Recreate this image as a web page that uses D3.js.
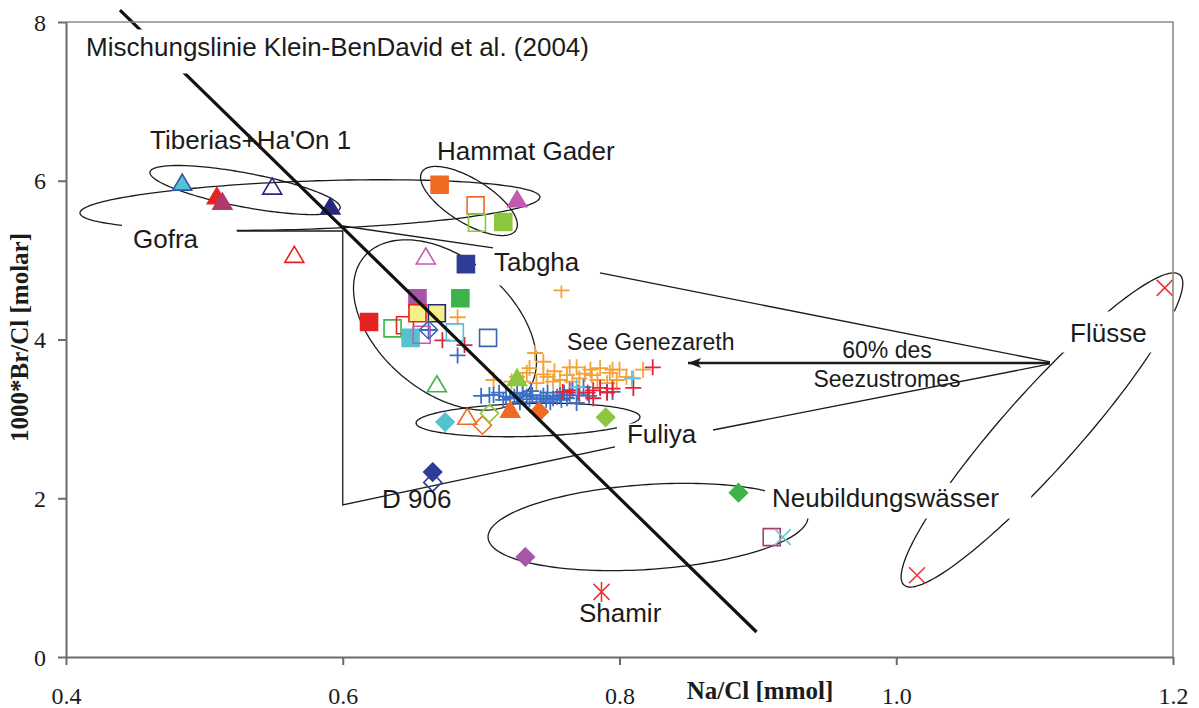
<!DOCTYPE html>
<html><head><meta charset="utf-8">
<script src="https://cdn.jsdelivr.net/npm/d3@7"></script>
<style>body{margin:0;background:#fff}svg{display:block}</style>
</head><body><svg id="c" width="1199" height="708"></svg>
<script>
// ================= DATA =================
const xTicks = [0.4, 0.6, 0.8, 1.0, 1.2];
const xTickLabels = ["0.4", "0.6", "0.8", "1.0", "1.2"];
const yTicks = [0, 2, 4, 6, 8];
const yTickLabels = ["0", "2", "4", "6", "8"];
const xTitle = "Na/Cl [mmol]";
const yTitle = "1000*Br/Cl [molar]";

// [Na/Cl, 1000*Br/Cl] per marker series
const triCyanFill    = [[0.484, 5.97]];
const triRedFill     = [[0.509, 5.80]];
const triCrimsonFill = [[0.513, 5.73]];
const triNavyOpen    = [[0.549, 5.92]];
const triNavyFill    = [[0.591, 5.67]];
const triRedOpen     = [[0.565, 5.06]];
const sqOrangeFill   = [[0.670, 5.95]];
const sqOrangeOpen   = [[0.696, 5.69]];
const sqLimeOpen     = [[0.697, 5.47]];
const sqLimeFill     = [[0.716, 5.48]];
const triMagentaFill = [[0.726, 5.76]];
const triMagentaOpen = [[0.660, 5.04]];
const sqBlueFill     = [[0.689, 4.95]];
const sqPurpleFill   = [[0.654, 4.52]];
const sqGreenFill    = [[0.685, 4.52]];
const sqRedFill      = [[0.619, 4.22]];
const sqYellowRed    = [[0.654, 4.33]];
const sqYellowNavy   = [[0.668, 4.33]];
const sqGreenOpen    = [[0.636, 4.14]];
const sqRedOpen      = [[0.645, 4.18]];
const sqCyanFill     = [[0.649, 4.02]];
const sqCyanOpen     = [[0.681, 4.09]];
const sqPinkOpen     = [[0.657, 4.06]];
const diaBlueOpen    = [[0.662, 4.12]];
const sqBlueOpen     = [[0.705, 4.02]];
const triGreenOpen   = [[0.668, 3.43]];
const triLimeFill    = [[0.726, 3.51]];
const triOrangeFill  = [[0.721, 3.11]];
const triOrangeOpen  = [[0.690, 3.02]];
const diaOrangeFill  = [[0.742, 3.09]];
const diaOrangeOpen  = [[0.701, 2.92]];
const diaLimeFill    = [[0.790, 3.02]];
const diaLimeOpen    = [[0.706, 3.07]];
const diaCyanFill    = [[0.674, 2.96]];
const diaNavyFill    = [[0.665, 2.33]];
const diaNavyOpen    = [[0.665, 2.20]];
const diaGreenFill   = [[0.886, 2.07]];
const diaPurpleFill  = [[0.732, 1.26]];
const sqPlumOpen     = [[0.910, 1.51]];
const xCyan          = [[0.918, 1.51]];
const starRed        = [[0.787, 0.82]];
const xRed           = [[1.194, 4.65], [1.015, 1.03]];
const plusOrange = [[0.758,4.62],[0.683,4.28],[0.739,3.83],[0.745,3.72],[0.764,3.65],[0.769,3.65],[0.779,3.62],
  [0.786,3.64],[0.793,3.58],[0.800,3.62],[0.805,3.53],[0.817,3.62],[0.726,3.53],[0.733,3.58],[0.748,3.53],
  [0.757,3.49],[0.709,3.49],[0.791,3.45],[0.798,3.49],[0.810,3.51],[0.740,3.45],[0.771,3.51],[0.784,3.49],
  [0.753,3.60],[0.762,3.55],[0.775,3.57],[0.730,3.47],[0.745,3.56],[0.735,3.64],[0.752,3.47],[0.766,3.47],
  [0.780,3.55],[0.795,3.62],[0.722,3.47]];
const plusRed = [[0.824,3.65],[0.810,3.39],[0.781,3.36],[0.786,3.39],[0.791,3.33],[0.777,3.33],[0.764,3.36],
  [0.759,3.34],[0.781,3.26],[0.672,3.99],[0.688,3.93],[0.795,3.38],[0.770,3.33]];
const plusBlue = [[0.709,3.30],[0.721,3.26],[0.726,3.33],[0.733,3.28],[0.737,3.30],[0.743,3.26],[0.748,3.33],
  [0.752,3.26],[0.757,3.30],[0.762,3.26],[0.766,3.36],[0.769,3.20],[0.774,3.40],[0.791,3.34],[0.795,3.34],
  [0.728,3.21],[0.740,3.21],[0.750,3.21],[0.706,3.30],[0.716,3.24],[0.683,3.80],[0.662,4.12],[0.730,3.31],
  [0.745,3.29],[0.755,3.28],[0.760,3.33],[0.713,3.33],[0.718,3.28],[0.724,3.28],[0.735,3.25],[0.747,3.24],
  [0.758,3.24],[0.764,3.30],[0.771,3.30],[0.778,3.29],[0.700,3.29],[0.736,3.35]];
const plusCyan = [[0.809,3.51],[0.769,3.40]];

// annotation geometry (data units): ellipse = centre + two conjugate semi-axes
const ellTiberias = {c:[0.5294,5.883], u:[0.0687,-0.2268], v:[-0.0023,-0.2104]};
const ellGofra    = {c:[0.5763,5.694], u:[0.1662, 0.1008], v:[0.0006,-0.3024]};
const ellHammat   = {c:[0.6912,5.745], u:[0.0340,-0.3654], v:[-0.0082,-0.2368]};
const ellTabgha   = {c:[0.6739,4.183], u:[0.0636,-0.1764], v:[0.0181,-1.0583]};
const ellFuliya   = {c:[0.7339,2.986], u:[0.0809, 0.0378], v:[0.0000,-0.2079]};
const ellNeubild  = {c:[0.8206,1.638], u:[0.1156, 0.1260], v:[0.0000,-0.5354]};
const ellFluesse  = {c:[1.1053,2.860], u:[0.0997, 1.9528], v:[0.0205,-0.3187]};
const mixingLine  = [[0.439, 8.15], [0.899, 0.315]];
const polyD906    = [[0.5236,5.367],[0.6,5.367],[0.6,1.915],[0.7967,2.646]];
const lineTabgha  = [[0.6,5.43],[0.7086,5.153]];
const lineFlTab   = [[1.1111,3.717],[0.7859,4.838]];
const lineFlFul   = [[1.1111,3.692],[0.8676,2.860]];
const arrowSee    = [[1.1111,3.704],[0.8495,3.704]];
const labels = [
  ["Mischungslinie Klein-BenDavid et al. (2004)", 0.4145, 7.572],
  ["Tiberias+Ha'On 1", 0.4607, 6.400],
  ["Hammat Gader", 0.6681, 6.261],
  ["Gofra", 0.4484, 5.153],
  ["Tabgha", 0.7093, 4.863],
  ["See Genezareth", 0.7621, 3.868],
  ["60% des", 0.9933, 3.767],
  ["Seezustromes", 0.9933, 3.402],
  ["Flüsse", 1.1256, 3.969],
  ["Fuliya", 0.8054, 2.696],
  ["D 906", 0.6284, 1.877],
  ["Neubildungswässer", 0.9102, 1.890],
  ["Shamir", 0.7707, 0.441]
];

// ================= DRAW =================
const svg = d3.select("#c");
const x = d3.scaleLinear().domain([0.4, 1.2]).range([66, 1173]);
const y = d3.scaleLinear().domain([0, 8]).range([657, 22]);
const INK = "#1b1b1b";

const gAnn = svg.append("g").attr("fill", "none").attr("stroke", INK).attr("stroke-width", 1.3);
function ellPts(e) {
  return d3.range(0, 360, 2).map(a => {
    const t = a * Math.PI / 180, c = Math.cos(t), s = Math.sin(t);
    return [x(e.c[0] + e.u[0]*c + e.v[0]*s), y(e.c[1] + e.u[1]*c + e.v[1]*s)];
  });
}
const closed = d3.line().curve(d3.curveLinearClosed);
[ellTiberias, ellGofra, ellHammat, ellTabgha, ellFuliya, ellNeubild, ellFluesse].forEach(e =>
  gAnn.append("path").attr("d", closed(ellPts(e))));
const ln = d3.line().x(d => x(d[0])).y(d => y(d[1]));
[polyD906, lineTabgha, lineFlTab, lineFlFul].forEach(l => gAnn.append("path").attr("d", ln(l)));
gAnn.append("path").attr("d", ln(arrowSee)).attr("stroke-width", 2.6);
{
  const tx = x(arrowSee[1][0]), ty = y(arrowSee[1][1]);
  svg.append("path").attr("fill", INK)
    .attr("d", `M${tx},${ty}L${tx+13},${ty-5}L${tx+10},${ty}L${tx+13},${ty+5}Z`);
}

// markers
const S = {
  sq:  `M-8.5,-8.5H8.5V8.5H-8.5Z`,
  tri: `M0,-9L9.5,7L-9.5,7Z`,
  dia: `M0,-9L9,0L0,9L-9,0Z`,
  plus:`M-8,0H8M0,-8V8`,
  x:   `M-8,-8L8,8M-8,8L8,-8`,
  star:`M-8,-8L8,8M-8,8L8,-8M0,-10V10`
};
const RED="#e52420", NAVY="#26267f", CYAN="#55c2cf", ORANGE="#f06b22", LIME="#8dc63f", GREEN="#3db34a",
      MAG="#c25bb0", PURPLE="#a855a8", BLUE="#2e3d96", YEL="#f5ef8a", OBLUE="#3f63b3";
const markerStyles = [
  [plusOrange,'plus','none','#f4a238'], [plusBlue,'plus','none','#3c6fc4'], [plusRed,'plus','none','#e3233a'],
  [plusCyan,'plus','none','#5bc5e0'],
  [triCyanFill,'tri',CYAN,'#2f55a5'], [triRedFill,'tri',RED,RED], [triCrimsonFill,'tri','#b3386c','#b3386c'],
  [triNavyOpen,'tri','none',NAVY], [triNavyFill,'tri',NAVY,NAVY], [triRedOpen,'tri','none',RED],
  [sqOrangeFill,'sq',ORANGE,ORANGE], [sqOrangeOpen,'sq','none',ORANGE], [sqLimeOpen,'sq','none',LIME],
  [sqLimeFill,'sq',LIME,LIME], [triMagentaFill,'tri',MAG,MAG], [triMagentaOpen,'tri','none',MAG],
  [sqBlueFill,'sq',BLUE,BLUE], [sqPurpleFill,'sq',PURPLE,PURPLE], [sqGreenFill,'sq',GREEN,GREEN],
  [sqRedFill,'sq',RED,RED], [sqGreenOpen,'sq','none',GREEN], [sqRedOpen,'sq','none',RED],
  [sqYellowRed,'sq',YEL,RED], [sqYellowNavy,'sq',YEL,NAVY], [sqCyanFill,'sq',CYAN,CYAN],
  [sqCyanOpen,'sq','none',CYAN], [sqPinkOpen,'sq','none',MAG], [diaBlueOpen,'dia','none',OBLUE],
  [sqBlueOpen,'sq','none',OBLUE], [triGreenOpen,'tri','none',GREEN], [triLimeFill,'tri',LIME,LIME],
  [triOrangeFill,'tri',ORANGE,ORANGE], [triOrangeOpen,'tri','none',ORANGE], [diaOrangeFill,'dia',ORANGE,ORANGE],
  [diaOrangeOpen,'dia','none',ORANGE], [diaLimeFill,'dia',LIME,LIME], [diaLimeOpen,'dia','none',LIME],
  [diaCyanFill,'dia',CYAN,CYAN], [diaNavyFill,'dia',BLUE,BLUE], [diaNavyOpen,'dia','none',BLUE],
  [diaGreenFill,'dia',GREEN,GREEN], [diaPurpleFill,'dia',PURPLE,PURPLE], [sqPlumOpen,'sq','none','#a23f73'],
  [xCyan,'x','none','#6ccbd3'], [starRed,'star','none','#e8383a'], [xRed,'x','none','#e8383a']
];
const gM = svg.append("g");
markerStyles.forEach(([arr, shp, fill, stroke]) => {
  gM.selectAll(null).data(arr).join("path")
    .attr("transform", d => `translate(${x(d[0])},${y(d[1])})`)
    .attr("d", S[shp]).attr("fill", fill).attr("stroke", stroke)
    .attr("stroke-width", shp === 'plus' ? 1.8 : 1.6);
});

// mixing line
svg.append("path").attr("d", ln(mixingLine)).attr("stroke", "#111").attr("stroke-width", 3.2).attr("fill", "none");

// labels
const labelStyle = {
  "See Genezareth": {size: 23}, "60% des": {size: 23, anchor: "middle"}, "Seezustromes": {size: 23, anchor: "middle"},
  "Mischungslinie Klein-BenDavid et al. (2004)": {pad: [6, 2.5, 16, 11.5]},
  "Gofra": {pad: [11, 4.5, 38, 4.5]}, "Tabgha": {pad: [18, -4.5, 14, 8.5]},
  "Fuliya": {pad: [10, -4.5, 4, 3.5]}, "Neubildungswässer": {pad: [7, 0, 32, 5.5]},
  "Flüsse": {pad: [8, 6.5, 31, 4.5]}
};
const gL = svg.append("g").attr("font-family", "'Liberation Sans', Arial, sans-serif").attr("fill", INK);
labels.forEach(([txt, lx, ly]) => {
  const st = labelStyle[txt] || {};
  const g = gL.append("g");
  const r = st.pad ? g.append("rect").attr("fill", "#fff") : null;
  const t = g.append("text").attr("x", x(lx)).attr("y", y(ly)).attr("font-size", st.size || 26)
    .attr("text-anchor", st.anchor || "start").text(txt);
  if (r) {
    const b = t.node().getBBox(), p = st.pad;
    r.attr("x", b.x - p[0]).attr("y", b.y - p[1]).attr("width", b.width + p[0] + p[2]).attr("height", b.height + p[1] + p[3]);
  }
});

// frame (top/right)
svg.append("path").attr("fill", "none").attr("stroke", "#8a8a8a").attr("stroke-width", 1.6)
  .attr("d", `M${x(0.4)},${y(8)}H${x(1.2)}V${y(0)}`);

// axes
const serif = "'Liberation Serif', 'Times New Roman', serif";
const ax = svg.append("g").attr("transform", `translate(0,${y(0)})`)
  .call(d3.axisBottom(x).tickValues(xTicks).tickFormat((d, i) => xTickLabels[i]).tickSize(8).tickSizeOuter(0).tickPadding(22));
const ay = svg.append("g").attr("transform", `translate(${x(0.4)},0)`)
  .call(d3.axisLeft(y).tickValues(yTicks).tickFormat((d, i) => yTickLabels[i]).tickSize(8).tickSizeOuter(0).tickPadding(12));
[ax, ay].forEach(a => {
  a.selectAll("path,line").attr("stroke", "#6a6a6a").attr("stroke-width", 2);
  a.selectAll("text").attr("font-family", serif).attr("font-size", 24).attr("fill", INK);
});
ay.selectAll("text").attr("dy", "0.34em");

svg.append("text").attr("x", 760).attr("y", 699).attr("text-anchor", "middle")
  .attr("font-family", serif).attr("font-weight", "bold").attr("font-size", 25).attr("fill", INK).text(xTitle);
svg.append("text").attr("transform", `translate(28,${(y(0)+y(8))/2 - 2}) rotate(-90)`).attr("text-anchor", "middle")
  .attr("font-family", serif).attr("font-weight", "bold").attr("font-size", 25).attr("fill", INK).text(yTitle);
</script></body></html>
